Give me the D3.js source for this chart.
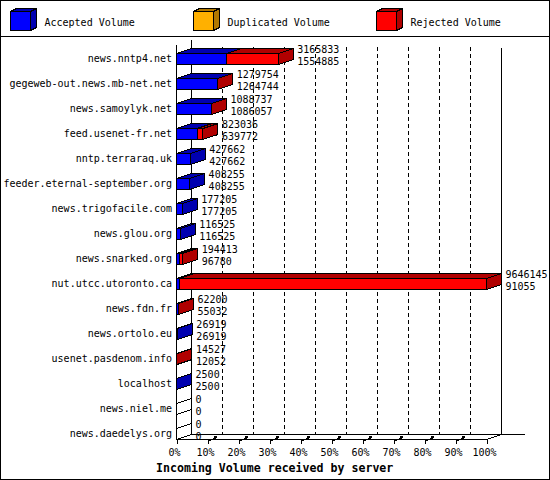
<!DOCTYPE html>
<html>
<head>
<meta charset="utf-8">
<script src="https://cdn.jsdelivr.net/npm/d3@7"></script>
<style>
  body { margin: 0; background: #fff; }
  svg { display: block; shape-rendering: crispEdges; }
  text { font-family: "DejaVu Sans Mono", "Liberation Mono", monospace; fill: #000; }
</style>
</head>
<body>
<div id="chart"></div>
<script>
// Incoming volume per feeding server
const categories = [
  'news.nntp4.net', 'gegeweb-out.news.mb-net.net', 'news.samoylyk.net',
  'feed.usenet-fr.net', 'nntp.terraraq.uk', 'feeder.eternal-september.org',
  'news.trigofacile.com', 'news.glou.org', 'news.snarked.org',
  'nut.utcc.utoronto.ca', 'news.fdn.fr', 'news.ortolo.eu',
  'usenet.pasdenom.info', 'localhost', 'news.niel.me', 'news.daedelys.org'
];
const acceptedVolume = [1554885, 1264744, 1086057, 639772, 427662, 408255, 177205,
  116525, 96780, 91055, 55032, 26919, 12052, 2500, 0, 0];
const duplicatedVolume = [0, 0, 0, 0, 0, 0, 0, 0, 0, 0, 0, 0, 0, 0, 0, 0];
const rejectedVolume = [1610948, 15010, 2680, 183264, 0, 0, 0, 0, 97633, 9555090,
  7168, 0, 2475, 0, 0, 0];
const totalVolume = [3165833, 1279754, 1088737, 823036, 427662, 408255, 177205,
  116525, 194413, 9646145, 62200, 26919, 14527, 2500, 0, 0];
const legendLabels = ['Accepted Volume', 'Duplicated Volume', 'Rejected Volume'];
const xTitle = 'Incoming Volume received by server';

const width = 550;
const height = 480;
const front = ['#0000ff', '#ffb000', '#ff0000'];
const dark = ['#0000b0', '#b07800', '#b00000'];
const dx = 15, dy = -5; // depth of the 3d box

const svg = d3.select('#chart').append('svg')
  .attr('width', width)
  .attr('height', height);

svg.append('rect')
  .attr('x', 0.5).attr('y', 0.5)
  .attr('width', width - 1).attr('height', height - 1)
  .attr('fill', '#fff').attr('stroke', '#000');

// legend
const leg = svg.append('g');
legendLabels.forEach((label, i) => {
  const gx = 10 + 183 * i;
  const g = leg.append('g').attr('transform', `translate(${gx},0)`);
  g.append('polygon')
    .attr('points', [[0.5, 11.5], [6.5, 8.5], [26.5, 8.5], [20.5, 11.5]].join(' '))
    .attr('fill', dark[i]).attr('stroke', '#000');
  g.append('polygon')
    .attr('points', [[20.5, 11.5], [26.5, 8.5], [26.5, 27.5], [20.5, 30.5]].join(' '))
    .attr('fill', dark[i]).attr('stroke', '#000');
  g.append('rect')
    .attr('x', 0.5).attr('y', 11.5).attr('width', 20).attr('height', 19)
    .attr('fill', front[i]).attr('stroke', '#000');
  g.append('text')
    .attr('x', 34.5).attr('y', 25.5)
    .attr('font-size', 10)
    .text(label);
});

svg.append('line')
  .attr('x1', 0).attr('x2', width)
  .attr('y1', 36.5).attr('y2', 36.5)
  .attr('stroke', '#000');

// scales
const x = d3.scaleLinear()
  .domain([0, d3.max(totalVolume)])
  .range([176.5, 486.5]);

const pct = d3.scaleLinear()
  .domain([0, 1])
  .range([176.5, 486.5]);

const y = d3.scalePoint()
  .domain(categories)
  .range([59, 434]);

const base = 439.5;

// back wall: dashed grid
const ticks = pct.ticks(10);
svg.append('g')
  .selectAll('line')
  .data(ticks.filter((t) => t > 0 && t < 1))
  .enter()
  .append('line')
  .attr('x1', (t) => pct(t) + dx)
  .attr('x2', (t) => pct(t) + dx)
  .attr('y1', 47)
  .attr('y2', base + dy)
  .attr('stroke', '#000')
  .attr('stroke-dasharray', '4,3');

const frame = svg.append('g').attr('stroke', '#000').attr('fill', 'none');
frame.append('line') // back left
  .attr('x1', pct(0) + dx).attr('x2', pct(0) + dx)
  .attr('y1', 40).attr('y2', base + dy);
frame.append('line') // back right
  .attr('x1', pct(1) + dx).attr('x2', pct(1) + dx)
  .attr('y1', 48).attr('y2', base + dy);
frame.append('line') // back floor
  .attr('x1', pct(0) + dx).attr('x2', 525)
  .attr('y1', base + dy).attr('y2', base + dy);
frame.append('line') // front left axis
  .attr('x1', pct(0)).attr('x2', pct(0))
  .attr('y1', 45).attr('y2', base);
frame.append('line') // front floor
  .attr('x1', pct(0)).attr('x2', pct(1))
  .attr('y1', base).attr('y2', base);
frame.append('line')
  .attr('x1', pct(1)).attr('x2', pct(1) + dx)
  .attr('y1', base).attr('y2', base + dy);
frame.append('line')
  .attr('x1', pct(0)).attr('x2', pct(0) + dx)
  .attr('y1', base).attr('y2', base + dy);

// bars
const bars = svg.append('g');
categories.forEach((cat, i) => {
  const c = y(cat);
  const top = c - 5.5;
  const bot = c + 5.5;
  const segs = [acceptedVolume[i], duplicatedVolume[i], rejectedVolume[i]];
  let start = 0;
  let last = -1;
  const g = bars.append('g');
  segs.forEach((v, k) => {
    if (v <= 0) return;
    const x0 = x(start);
    const x1 = x(start + v);
    g.append('polygon')
      .attr('points', [[x0, top], [x0 + dx, top + dy], [x1 + dx, top + dy], [x1, top]].join(' '))
      .attr('fill', dark[k]).attr('stroke', '#000');
    g.append('rect')
      .attr('x', x0).attr('y', top)
      .attr('width', Math.max(x1 - x0, 0.01)).attr('height', bot - top)
      .attr('fill', front[k]).attr('stroke', '#000');
    start += v;
    last = k;
  });
  const xe = x(start);
  g.append('polygon')
    .attr('points', [[xe, top], [xe + dx, top + dy], [xe + dx, bot + dy], [xe, bot]].join(' '))
    .attr('fill', last >= 0 ? dark[last] : 'none')
    .attr('stroke', '#000');
});

// category labels
svg.append('g')
  .selectAll('text')
  .data(categories)
  .enter()
  .append('text')
  .attr('x', 172)
  .attr('y', (d) => y(d) + 3)
  .attr('text-anchor', 'end')
  .attr('font-size', 10)
  .text((d) => d);

// value labels
const vals = svg.append('g').attr('font-size', 10);
categories.forEach((cat, i) => {
  const tx = x(totalVolume[i]) + dx + 4;
  vals.append('text')
    .attr('x', tx).attr('y', y(cat) - 6)
    .text(totalVolume[i]);
  vals.append('text')
    .attr('x', tx).attr('y', y(cat) + 6)
    .text(acceptedVolume[i]);
});

// x axis
const axis = svg.append('g')
  .attr('transform', `translate(0,${base})`)
  .call(d3.axisBottom(pct)
    .tickValues(ticks)
    .tickFormat(d3.format('.0%'))
    .tickSize(4)
    .tickPadding(5));
axis.select('.domain').remove();
axis.selectAll('.tick line').attr('stroke', '#000');
axis.selectAll('.tick text')
  .attr('x', -2.5)
  .attr('font-size', 10)
  .attr('font-family', '"DejaVu Sans Mono", monospace')
  .attr('fill', '#000');
axis.selectAll('.tick')
  .filter((t) => t > 0 && t < 1)
  .each(function () {
    const t = d3.select(this);
    t.append('line')
      .attr('x1', 0).attr('y1', 2)
      .attr('x2', 9).attr('y2', -2)
      .attr('stroke', '#000');
    t.append('rect')
      .attr('x', 6).attr('y', -4)
      .attr('width', 3).attr('height', 2)
      .attr('fill', '#000');
  });

svg.append('text')
  .attr('x', 156)
  .attr('y', 471.5)
  .attr('font-size', 11.6)
  .attr('font-weight', 'bold')
  .text(xTitle);
</script>
</body>
</html>
